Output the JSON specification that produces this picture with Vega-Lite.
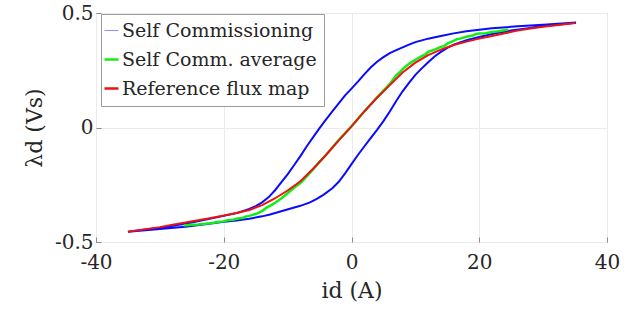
{
  "$schema": "https://vega.github.io/schema/vega-lite/v6.json",
  "width": 511,
  "height": 229,
  "autosize": "none",
  "padding": {"left": 96, "top": 13, "right": 34, "bottom": 73},
  "background": "white",
  "datasets": {
    "blue": [
      {"x": -35, "y": -0.455}, {"x": -30, "y": -0.443}, {"x": -26, "y": -0.433}, {"x": -22, "y": -0.419}, {"x": -20, "y": -0.412}, {"x": -18, "y": -0.406}, {"x": -16, "y": -0.398}, {"x": -14, "y": -0.388}, {"x": -12.75, "y": -0.38}, {"x": -11, "y": -0.366}, {"x": -9.5, "y": -0.354}, {"x": -8, "y": -0.342}, {"x": -6.5, "y": -0.327}, {"x": -5.5, "y": -0.313}, {"x": -4.4, "y": -0.294}, {"x": -3, "y": -0.265}, {"x": -2, "y": -0.237}, {"x": -1, "y": -0.2}, {"x": 0, "y": -0.16}, {"x": 1, "y": -0.12}, {"x": 2, "y": -0.083}, {"x": 3, "y": -0.046}, {"x": 4, "y": -0.01}, {"x": 5, "y": 0.028}, {"x": 6, "y": 0.07}, {"x": 7, "y": 0.116}, {"x": 8, "y": 0.158}, {"x": 9, "y": 0.195}, {"x": 10, "y": 0.23}, {"x": 11, "y": 0.258}, {"x": 12, "y": 0.285}, {"x": 13, "y": 0.31}, {"x": 14, "y": 0.33}, {"x": 15, "y": 0.348}, {"x": 16, "y": 0.362}, {"x": 18, "y": 0.381}, {"x": 20, "y": 0.395}, {"x": 22, "y": 0.408}, {"x": 25, "y": 0.424}, {"x": 30, "y": 0.442}, {"x": 35, "y": 0.457},
      {"x": 35, "y": 0.458}, {"x": 30, "y": 0.449}, {"x": 26, "y": 0.442}, {"x": 22, "y": 0.433}, {"x": 20, "y": 0.427}, {"x": 18, "y": 0.42}, {"x": 16, "y": 0.411}, {"x": 14, "y": 0.4}, {"x": 12, "y": 0.388}, {"x": 10, "y": 0.373}, {"x": 9, "y": 0.362}, {"x": 8, "y": 0.35}, {"x": 7, "y": 0.338}, {"x": 6, "y": 0.325}, {"x": 5, "y": 0.307}, {"x": 4, "y": 0.287}, {"x": 3, "y": 0.262}, {"x": 2, "y": 0.232}, {"x": 1, "y": 0.2}, {"x": 0, "y": 0.17}, {"x": -1, "y": 0.14}, {"x": -2, "y": 0.105}, {"x": -3, "y": 0.07}, {"x": -4, "y": 0.034}, {"x": -5, "y": -0.003}, {"x": -6, "y": -0.042}, {"x": -7, "y": -0.082}, {"x": -8, "y": -0.125}, {"x": -9, "y": -0.165}, {"x": -10, "y": -0.205}, {"x": -11, "y": -0.24}, {"x": -12, "y": -0.275}, {"x": -13, "y": -0.305}, {"x": -14, "y": -0.327}, {"x": -15, "y": -0.343}, {"x": -16, "y": -0.356}, {"x": -18, "y": -0.374}, {"x": -20, "y": -0.386}, {"x": -22, "y": -0.398}, {"x": -26, "y": -0.42}, {"x": -30, "y": -0.438}, {"x": -35, "y": -0.455}
    ],
    "green": [
      {"x": -26.3, "y": -0.428}, {"x": -25, "y": -0.425}, {"x": -24, "y": -0.424}, {"x": -23, "y": -0.42}, {"x": -22, "y": -0.418}, {"x": -21, "y": -0.413}, {"x": -20, "y": -0.41}, {"x": -19.5, "y": -0.405}, {"x": -18.5, "y": -0.403}, {"x": -18, "y": -0.398}, {"x": -17, "y": -0.394}, {"x": -16.5, "y": -0.388}, {"x": -16, "y": -0.386}, {"x": -15, "y": -0.378}, {"x": -14.5, "y": -0.372}, {"x": -14, "y": -0.365}, {"x": -13.3, "y": -0.35}, {"x": -12.5, "y": -0.338}, {"x": -12, "y": -0.33}, {"x": -11, "y": -0.31}, {"x": -10, "y": -0.287}, {"x": -9, "y": -0.263}, {"x": -8, "y": -0.243}, {"x": -7, "y": -0.214}, {"x": -6, "y": -0.182}, {"x": -5, "y": -0.15}, {"x": -4, "y": -0.12}, {"x": -2, "y": -0.055}, {"x": 0, "y": 0.005}, {"x": 2, "y": 0.07}, {"x": 4, "y": 0.132}, {"x": 6, "y": 0.19}, {"x": 7, "y": 0.228}, {"x": 7.5, "y": 0.24}, {"x": 8, "y": 0.255}, {"x": 9, "y": 0.278}, {"x": 10, "y": 0.296}, {"x": 11, "y": 0.312}, {"x": 11.5, "y": 0.318}, {"x": 12, "y": 0.33}, {"x": 13, "y": 0.34}, {"x": 14, "y": 0.352}, {"x": 14.5, "y": 0.355}, {"x": 15, "y": 0.366}, {"x": 16, "y": 0.378}, {"x": 16.5, "y": 0.386}, {"x": 17, "y": 0.388}, {"x": 18, "y": 0.396}, {"x": 19, "y": 0.402}, {"x": 19.5, "y": 0.408}, {"x": 20, "y": 0.41}, {"x": 21, "y": 0.412}, {"x": 22, "y": 0.417}, {"x": 23, "y": 0.42}, {"x": 24.5, "y": 0.428}
    ],
    "red": [
      {"x": -35, "y": -0.455}, {"x": -30, "y": -0.435}, {"x": -28, "y": -0.425}, {"x": -26, "y": -0.415}, {"x": -24, "y": -0.405}, {"x": -22, "y": -0.395}, {"x": -20, "y": -0.384}, {"x": -18, "y": -0.373}, {"x": -16, "y": -0.36}, {"x": -14, "y": -0.339}, {"x": -12, "y": -0.31}, {"x": -10, "y": -0.275}, {"x": -8, "y": -0.235}, {"x": -6, "y": -0.18}, {"x": -4, "y": -0.12}, {"x": -2, "y": -0.056}, {"x": 0, "y": 0.005}, {"x": 2, "y": 0.07}, {"x": 4, "y": 0.13}, {"x": 6, "y": 0.185}, {"x": 8, "y": 0.24}, {"x": 10, "y": 0.283}, {"x": 12, "y": 0.316}, {"x": 14, "y": 0.34}, {"x": 16, "y": 0.36}, {"x": 18, "y": 0.375}, {"x": 20, "y": 0.388}, {"x": 22, "y": 0.4}, {"x": 24, "y": 0.412}, {"x": 26, "y": 0.423}, {"x": 28, "y": 0.432}, {"x": 30, "y": 0.44}, {"x": 35, "y": 0.456}
    ]
  },
  "config": {
    "view": {"stroke": "#8a8a8a", "strokeWidth": 1},
    "font": "DejaVu Serif",
    "axis": {
      "labelFont": "DejaVu Serif",
      "labelFontSize": 20,
      "labelColor": "#262626",
      "labelFlush": false,
      "titleFont": "DejaVu Serif",
      "titleFontSize": 22,
      "titleFontWeight": "normal",
      "titleColor": "#262626",
      "domain": false,
      "gridColor": "#ebebeb",
      "gridWidth": 1,
      "tickColor": "#8a8a8a",
      "tickSize": -5
    }
  },
  "layer": [
    {
      "data": {"name": "blue"},
      "mark": {"type": "line", "strokeWidth": 2, "clip": false},
      "encoding": {
        "x": {"field": "x", "type": "quantitative", "scale": {"domain": [-40, 40], "nice": false},
              "axis": {"values": [-40, -20, 0, 20, 40], "title": "id (A)", "labelPadding": 15, "titlePadding": 8,
                       "labelExpr": "replace(datum.label, '−', '-')"}},
        "y": {"field": "y", "type": "quantitative", "scale": {"domain": [-0.5, 0.5], "nice": false},
              "axis": {"values": [-0.5, 0, 0.5], "format": ".1~f", "title": "λd (Vs)", "labelPadding": 8, "titlePadding": 8,
                       "labelExpr": "replace(datum.label, '−', '-')"}},
        "color": {"datum": "Self Commissioning", "type": "nominal",
                  "scale": {"domain": ["Self Commissioning", "Self Comm. average", "Reference flux map"], "range": ["#0a0aff", "#12ee12", "#ee1111"]},
                  "legend": {"title": null, "orient": "none", "legendX": 5, "legendY": 1,
                             "fillColor": "white", "strokeColor": "#9a9a9a", "padding": 7,
                             "symbolType": "stroke", "symbolSize": 196, "symbolStrokeWidth": 2, "symbolOffset": -6,
                             "labelFont": "DejaVu Serif", "labelFontSize": 19, "labelColor": "#262626", "labelOffset": 1,
                             "rowPadding": 9, "labelLimit": 400,
                             "encode": {"symbols": {"update": {
                               "strokeWidth": {"signal": "datum.value === 'Self Commissioning' ? 1 : 2.5"},
                               "opacity": {"signal": "datum.value === 'Self Commissioning' ? 0.45 : 1"}}}}}},
        "order": {"value": null}
      }
    },
    {
      "data": {"name": "green"},
      "mark": {"type": "line", "strokeWidth": 2.5},
      "encoding": {
        "x": {"field": "x", "type": "quantitative"},
        "y": {"field": "y", "type": "quantitative"},
        "color": {"datum": "Self Comm. average", "type": "nominal"}
      }
    },
    {
      "data": {"name": "red"},
      "mark": {"type": "line", "strokeWidth": 2},
      "encoding": {
        "x": {"field": "x", "type": "quantitative"},
        "y": {"field": "y", "type": "quantitative"},
        "color": {"datum": "Reference flux map", "type": "nominal"}
      }
    }
  ]
}
